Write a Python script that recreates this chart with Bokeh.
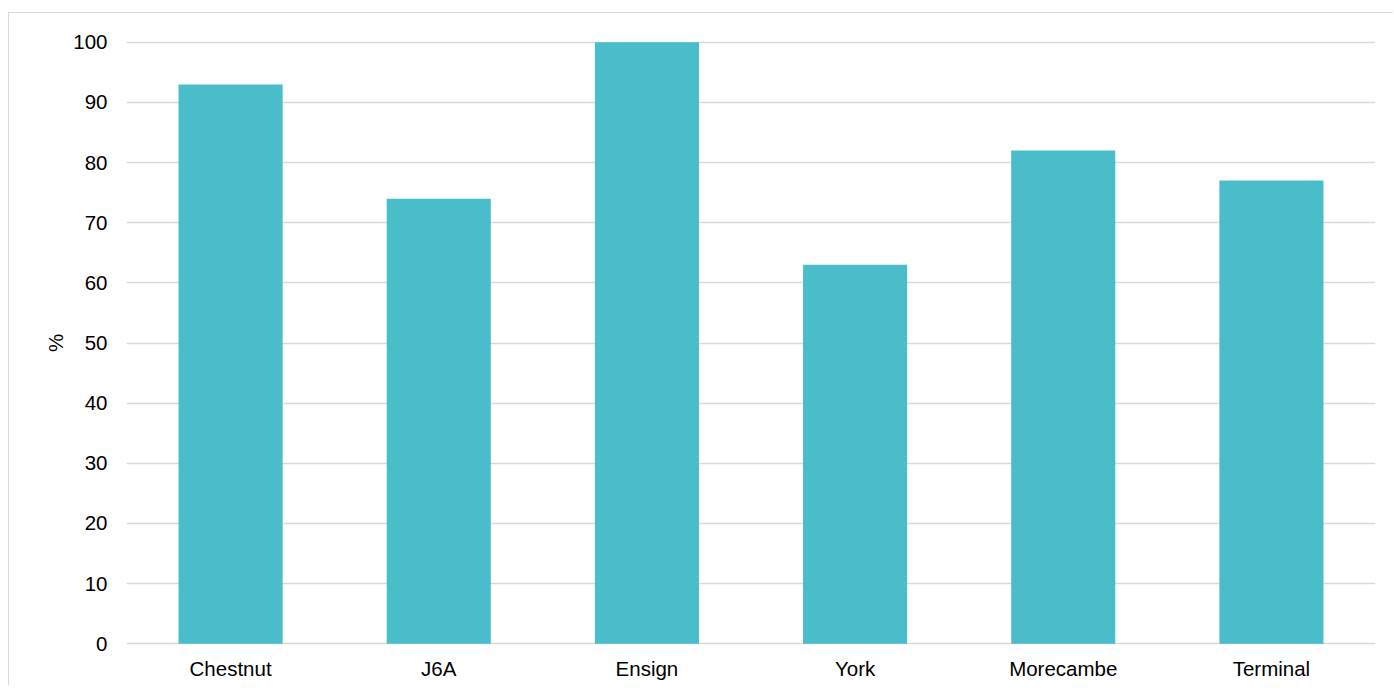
from bokeh.plotting import figure
from bokeh.models import FixedTicker, Range1d
from bokeh.embed import file_html
from bokeh.resources import INLINE

sites = ["Chestnut", "J6A", "Ensign", "York", "Morecambe", "Terminal"]
values = [93, 74, 100, 63, 82, 77]
y_ticks = [0, 10, 20, 30, 40, 50, 60, 70, 80, 90, 100]

FONT = "Liberation Sans"
GRID = "#d9d9d9"
FS = "20.5px"

p = figure(x_range=sites, y_range=Range1d(-0.3, 100.3), width=1385, height=673,
           output_backend="svg", toolbar_location=None,
           min_border_left=117, min_border_right=19, min_border_top=27, min_border_bottom=41)
p.styles = {"margin-left": "8px", "margin-top": "12px",
            "border-left": "1px solid #d9d9d9", "border-top": "1px solid #d9d9d9"}
p.vbar(x=sites, top=values, width=0.5, fill_color="#49BDCA", line_color=None)

p.outline_line_color = None
p.xgrid.grid_line_color = None
p.ygrid.grid_line_color = GRID
p.ygrid.grid_line_width = 1.5
p.yaxis.ticker = FixedTicker(ticks=y_ticks)

for ax in (p.xaxis[0], p.yaxis[0]):
    ax.axis_line_color = None
    ax.major_tick_line_color = None
    ax.minor_tick_line_color = None
    ax.major_tick_out = 0
    ax.major_tick_in = 0
    ax.major_label_text_font = FONT
    ax.major_label_text_font_size = FS
    ax.major_label_text_color = "#000000"

p.yaxis.major_label_standoff = 19
p.xaxis.major_label_standoff = 11
p.yaxis.axis_label = "%"
p.yaxis.axis_label_text_font = FONT
p.yaxis.axis_label_text_font_size = FS
p.yaxis.axis_label_text_font_style = "normal"
p.yaxis.axis_label_text_color = "#000000"
p.yaxis.axis_label_standoff = 3

open("out.html", "w").write(file_html(p, INLINE))
